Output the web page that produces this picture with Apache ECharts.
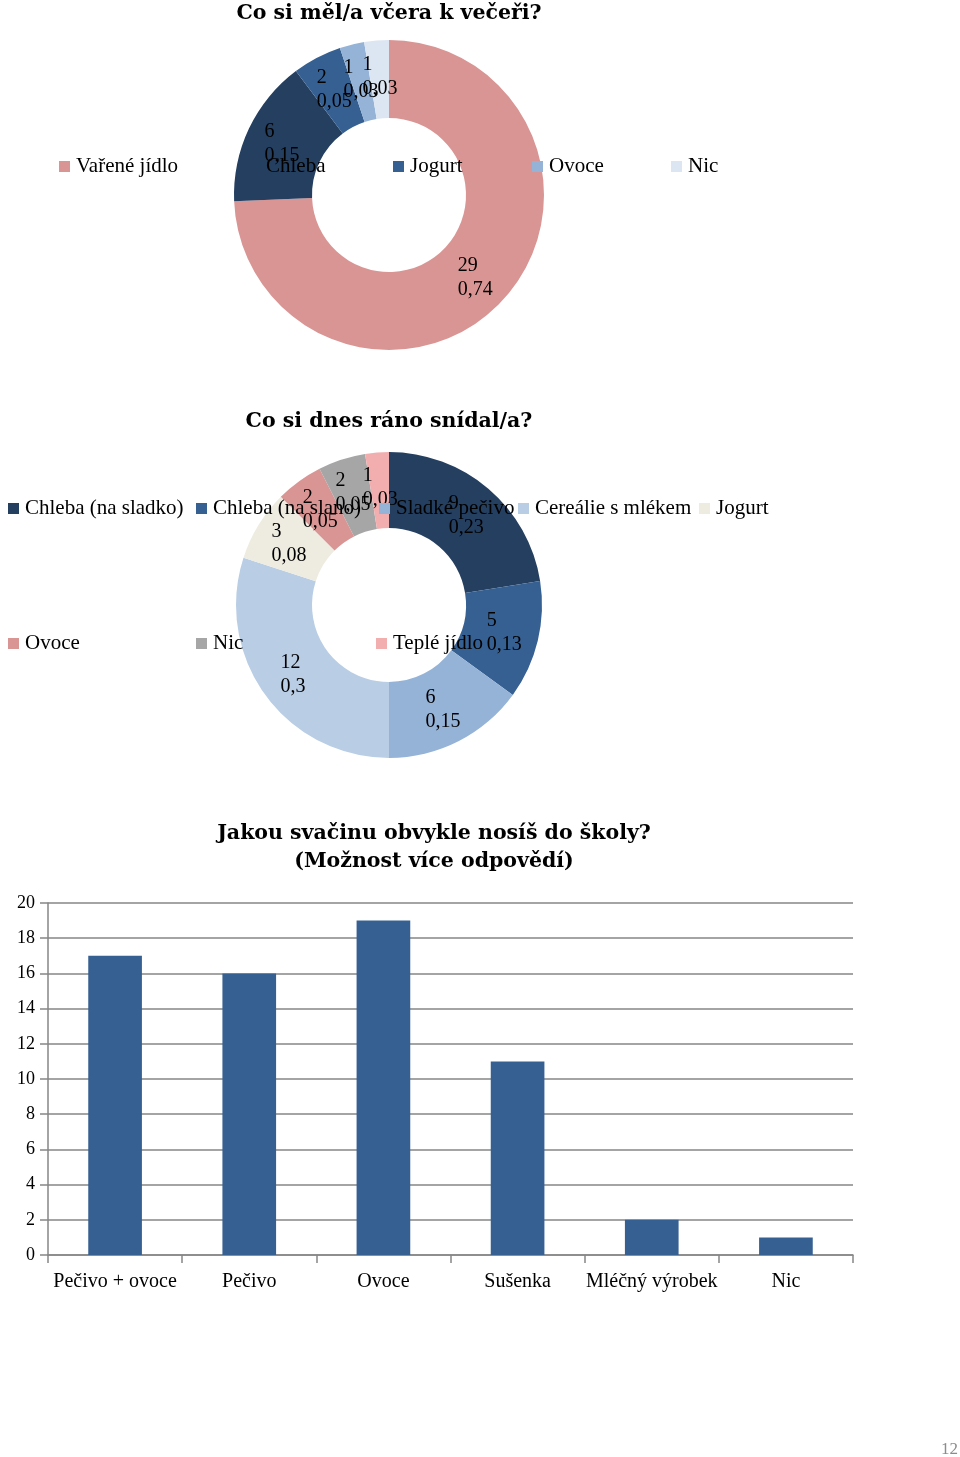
<!DOCTYPE html>
<html>
<head>
<meta charset="utf-8">
<script src="https://cdn.jsdelivr.net/npm/echarts@6/dist/echarts.min.js"></script>
<style>
html,body{margin:0;padding:0;background:#fff;}
#c1,#c2,#c3{position:absolute;left:0;width:960px;}
#c1{top:0;height:400px;}
#c2{top:400px;height:400px;}
#c3{top:800px;height:657px;}
</style>
</head>
<body>
<div id="c1"></div>
<div id="c2"></div>
<div id="c3"></div>
<script>
// ---- Data ----
const dinnerTitle = 'Co si měl/a včera k večeři?';
const dinnerCategories = ['Vařené jídlo', 'Chleba', 'Jogurt', 'Ovoce', 'Nic'];
const dinnerValues = [29, 6, 2, 1, 1];

const breakfastTitle = 'Co si dnes ráno snídal/a?';
const breakfastCategories = ['Chleba (na sladko)', 'Chleba (na slano)', 'Sladké pečivo', 'Cereálie s mlékem', 'Jogurt', 'Ovoce', 'Nic', 'Teplé jídlo'];
const breakfastValues = [9, 5, 6, 12, 3, 2, 2, 1];

const snackTitle = 'Jakou svačinu obvykle nosíš do školy?\n(Možnost více odpovědí)';
const snackCategories = ['Pečivo + ovoce', 'Pečivo', 'Ovoce', 'Sušenka', 'Mléčný výrobek', 'Nic'];
const snackValues = [17, 16, 19, 11, 2, 1];
const snackTicks = [0, 2, 4, 6, 8, 10, 12, 14, 16, 18, 20];

const pageNumber = '12';

// ---- Styles / layout ----
const FONT = '"Liberation Serif", "DejaVu Serif", serif';
const TITLE_FONT = '"DejaVu Serif", "Liberation Serif", serif';
const dinnerColors = ['#D99594', '#243F60', '#366092', '#95B3D7', '#DCE6F2'];
const breakfastColors = ['#243F60', '#366092', '#95B3D7', '#B9CDE5', '#EEECE1', '#D99594', '#A6A6A6', '#F2AEAE'];
const dinnerLegendPos = [[59, 156], [249, 156], [393, 156], [532, 156], [671, 156]];
const breakfastLegendPos = [[8, 98], [196, 98], [379, 98], [518, 98], [699, 98], [8, 233], [196, 233], [376, 233]];

function pctText(v, total) {
  const n = Math.round(v * 100 / total);
  return String(n / 100).replace('.', ',');
}

function makeLegends(names, pos) {
  return names.map((n, i) => ({
    data: [n],
    left: pos[i][0],
    top: pos[i][1],
    padding: 0,
    itemWidth: 11,
    itemHeight: 11,
    icon: 'rect',
    selectedMode: false,
    textStyle: {fontFamily: FONT, fontSize: 21, color: '#000', lineHeight: 20, padding: [0, 0, 0, 1]}
  }));
}

function pieSeries(names, values, colors, center, radius) {
  const total = values.reduce((a, b) => a + b, 0);
  return {
    type: 'pie',
    center: center,
    radius: radius,
    startAngle: 90,
    clockwise: true,
    avoidLabelOverlap: false,
    labelLayout: {hideOverlap: false},
    emphasis: {scale: false},
    labelLine: {show: false},
    label: {
      show: true,
      position: 'inside',
      formatter: p => {
        const t = pctText(p.value, total);
        const key = t.length > 3 ? 'w' : 's';
        return '{' + key + '|' + p.value + '}\n{' + key + '|' + t + '}';
      },
      rich: {
        w: {width: 34, align: 'left', fontFamily: FONT, fontSize: 20, color: '#000', lineHeight: 24},
        s: {width: 26, align: 'left', fontFamily: FONT, fontSize: 20, color: '#000', lineHeight: 24}
      }
    },
    itemStyle: {borderWidth: 0},
    data: names.map((n, i) => ({name: n, value: values[i], itemStyle: {color: colors[i]}}))
  };
}

function titleGraphic(text, x, y) {
  return {
    type: 'text', x: x, y: y,
    style: {text: text, fontFamily: TITLE_FONT, fontSize: 20.5, fontWeight: 'bold', fill: '#000',
      align: 'center', verticalAlign: 'middle', lineHeight: 28}
  };
}

// ---- Chart 1 ----
const ch1 = echarts.init(document.getElementById('c1'));
ch1.setOption({
  animation: false,
  graphic: [titleGraphic(dinnerTitle, 389, 14)],
  legend: makeLegends(dinnerCategories, dinnerLegendPos),
  series: [pieSeries(dinnerCategories, dinnerValues, dinnerColors, [389, 195], [77, 155])]
});

// ---- Chart 2 ----
const ch2 = echarts.init(document.getElementById('c2'));
ch2.setOption({
  animation: false,
  graphic: [titleGraphic(breakfastTitle, 389, 22)],
  legend: makeLegends(breakfastCategories, breakfastLegendPos),
  series: [pieSeries(breakfastCategories, breakfastValues, breakfastColors, [389, 205], [77, 153])]
});

// ---- Chart 3 ----
const ch3 = echarts.init(document.getElementById('c3'));
const axisGray = '#868686';
ch3.setOption({
  animation: false,
  graphic: [
    titleGraphic(snackTitle, 434, 48),
    {type: 'text', x: 958, y: 650, style: {text: pageNumber, fontFamily: FONT, fontSize: 17, fill: '#8c8c8c', align: 'right', verticalAlign: 'middle'}}
  ],
  grid: {left: 48, right: 107, top: 103, bottom: 202, containLabel: false},
  xAxis: {
    type: 'category',
    data: snackCategories,
    boundaryGap: true,
    axisLine: {show: true, lineStyle: {color: axisGray, width: 1.5}},
    axisTick: {show: true, length: 8, interval: 0, lineStyle: {color: axisGray, width: 1.5}},
    axisLabel: {interval: 0, margin: 17, fontFamily: FONT, fontSize: 20, color: '#000'}
  },
  yAxis: {
    type: 'value',
    min: snackTicks[0],
    max: snackTicks[snackTicks.length - 1],
    interval: snackTicks[1] - snackTicks[0],
    axisLine: {show: true, lineStyle: {color: axisGray, width: 1.5}},
    axisTick: {show: true, length: 8, lineStyle: {color: axisGray, width: 1.5}},
    splitLine: {show: true, lineStyle: {color: axisGray, width: 1.5}},
    axisLabel: {margin: 13, fontFamily: FONT, fontSize: 18, color: '#000'}
  },
  series: [{
    type: 'bar',
    data: snackValues,
    barWidth: '40%',
    itemStyle: {color: '#366092'},
    emphasis: {disabled: true}
  }]
});
</script>
</body>
</html>
